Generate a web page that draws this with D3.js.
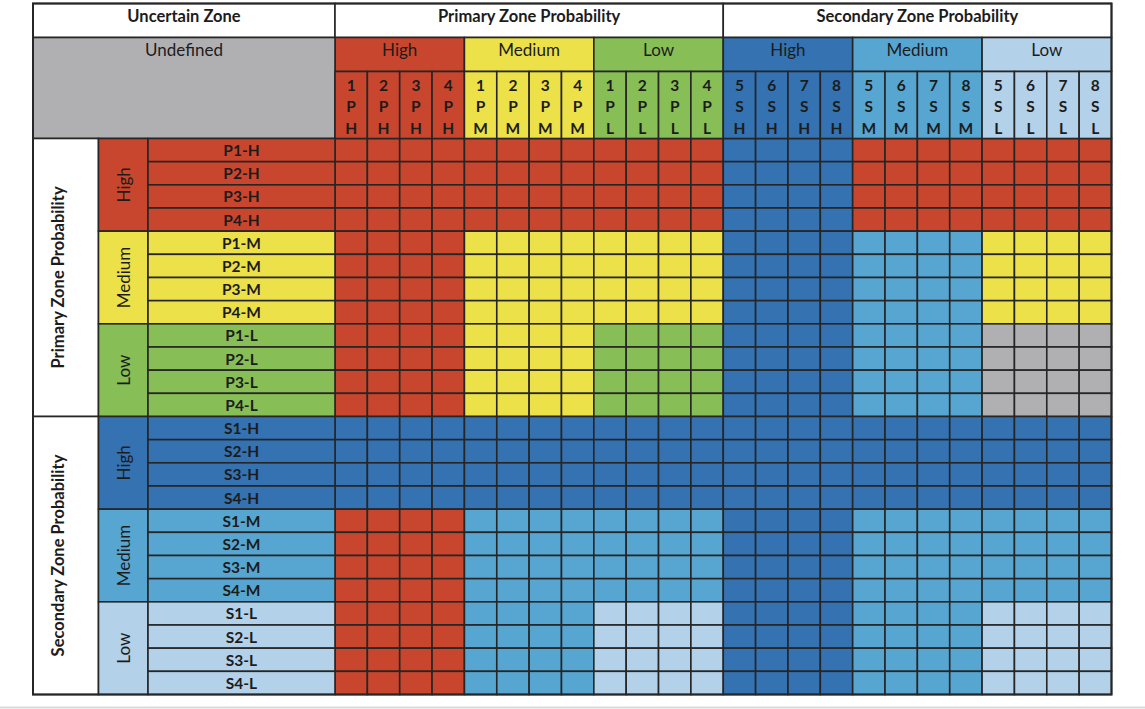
<!DOCTYPE html>
<html>
<head>
<meta charset="utf-8">
<script src="https://cdn.jsdelivr.net/npm/d3@7"></script>
<style>
  body { margin: 0; background: #fff; }
  text { font-family: Lato, "Open Sans", sans-serif; fill: #1c1c1c; }
</style>
</head>
<body>
<script>
//// Data ////////////////////////////////////////////
const ZONES = ["Primary Zone Probability", "Secondary Zone Probability"]
const LEVELS = ["High", "Medium", "Low"]

// column header stacks (number / zone letter / level letter)
const COL_NUMBERS = ["1", "2", "3", "4", "1", "2", "3", "4", "1", "2", "3", "4",
  "5", "6", "7", "8", "5", "6", "7", "8", "5", "6", "7", "8"]
const COL_ZONE = ["P", "P", "P", "P", "P", "P", "P", "P", "P", "P", "P", "P",
  "S", "S", "S", "S", "S", "S", "S", "S", "S", "S", "S", "S"]
const COL_LEVEL = ["H", "H", "H", "H", "M", "M", "M", "M", "L", "L", "L", "L",
  "H", "H", "H", "H", "M", "M", "M", "M", "L", "L", "L", "L"]

const ROW_LABELS = ["P1-H", "P2-H", "P3-H", "P4-H", "P1-M", "P2-M", "P3-M", "P4-M",
  "P1-L", "P2-L", "P3-L", "P4-L", "S1-H", "S2-H", "S3-H", "S4-H",
  "S1-M", "S2-M", "S3-M", "S4-M", "S1-L", "S2-L", "S3-L", "S4-L"]

// r = red, y = yellow, g = green, d = dark blue, m = medium blue, l = light blue, u = undefined
const CELLS = [
  "rrrrrrrrrrrrddddrrrrrrrr",
  "rrrrrrrrrrrrddddrrrrrrrr",
  "rrrrrrrrrrrrddddrrrrrrrr",
  "rrrrrrrrrrrrddddrrrrrrrr",
  "rrrryyyyyyyyddddmmmmyyyy",
  "rrrryyyyyyyyddddmmmmyyyy",
  "rrrryyyyyyyyddddmmmmyyyy",
  "rrrryyyyyyyyddddmmmmyyyy",
  "rrrryyyyggggddddmmmmuuuu",
  "rrrryyyyggggddddmmmmuuuu",
  "rrrryyyyggggddddmmmmuuuu",
  "rrrryyyyggggddddmmmmuuuu",
  "dddddddddddddddddddddddd",
  "dddddddddddddddddddddddd",
  "dddddddddddddddddddddddd",
  "dddddddddddddddddddddddd",
  "rrrrmmmmmmmmddddmmmmmmmm",
  "rrrrmmmmmmmmddddmmmmmmmm",
  "rrrrmmmmmmmmddddmmmmmmmm",
  "rrrrmmmmmmmmddddmmmmmmmm",
  "rrrrmmmmllllddddmmmmllll",
  "rrrrmmmmllllddddmmmmllll",
  "rrrrmmmmllllddddmmmmllll",
  "rrrrmmmmllllddddmmmmllll"
]

//// Styles //////////////////////////////////////////
const WIDTH = 1145
const HEIGHT = 709
const LINE = "#262626"
const COLORS = {
  r: "rgb(201, 70, 46)",
  y: "rgb(236, 225, 73)",
  g: "rgb(135, 190, 86)",
  d: "rgb(52, 114, 178)",
  m: "rgb(87, 166, 209)",
  l: "rgb(179, 209, 232)",
  u: "rgb(176, 176, 178)"
}
// level colours per zone (for header / row group cells)
const ZONE_LEVEL_COLORS = [["r", "y", "g"], ["d", "m", "l"]]

const X0 = 33, X1 = 98.5, X2 = 148, X3 = 335, XR = 1111.5
const Y0 = 3.5, Y1 = 37.5, Y2 = 71.5, Y3 = 138.5, YB = 694.5

const svg = d3.select("body").append("svg")
  .attr("width", WIDTH)
  .attr("height", HEIGHT)

const x = d3.scaleBand().domain(d3.range(24)).range([X3, XR])
const y = d3.scaleBand().domain(ROW_LABELS).range([Y3, YB])

function cell(x0, y0, w, h, fill) {
  svg.append("rect")
    .attr("x", x0).attr("y", y0).attr("width", w).attr("height", h)
    .attr("fill", fill)
    .attr("stroke", LINE).attr("stroke-width", 1.6)
}

function label(tx, ty, str, size, weight, rotate) {
  const t = svg.append("text")
    .attr("text-anchor", "middle")
    .attr("dominant-baseline", "central")
    .style("font-size", size + "px")
    .style("font-weight", weight)
    .text(str)
  if (rotate) t.attr("transform", `translate(${tx},${ty}) rotate(-90)`)
  else t.attr("x", tx).attr("y", ty)
  return t
}

function zoneColor(zi, li) {
  return COLORS[ZONE_LEVEL_COLORS[zi][li]]
}

//// Matrix cells ////
const rows = svg.append("g")
CELLS.forEach((line, i) => {
  line.split("").forEach((c, j) => {
    rows.append("rect")
      .attr("x", x(j)).attr("y", y(ROW_LABELS[i]))
      .attr("width", x.bandwidth()).attr("height", y.bandwidth())
      .attr("fill", COLORS[c])
      .attr("stroke", LINE).attr("stroke-width", 1.6)
  })
})

//// Top header ////
cell(X0, Y0, X3 - X0, Y1 - Y0, "#fff")
label((X0 + X3) / 2, 16, "Uncertain Zone", 16.5, 700)
ZONES.forEach((z, zi) => {
  const a = x(zi * 12), b = x(zi * 12 + 11) + x.bandwidth()
  cell(a, Y0, b - a, Y1 - Y0, "#fff")
  label((a + b) / 2, 16, z, 16.5, 700)
  LEVELS.forEach((lv, li) => {
    const s = x(zi * 12 + li * 4), e = x(zi * 12 + li * 4 + 3) + x.bandwidth()
    cell(s, Y1, e - s, Y2 - Y1, zoneColor(zi, li))
    label((s + e) / 2, 49.5, lv, 17, 400)
  })
})
cell(X0, Y1, X3 - X0, Y3 - Y1, COLORS.u)
label((X0 + X3) / 2, 49.5, "Undefined", 17, 400)

// column header stacks
COL_NUMBERS.forEach((n, j) => {
  const zi = j < 12 ? 0 : 1
  cell(x(j), Y2, x.bandwidth(), Y3 - Y2, zoneColor(zi, Math.floor((j % 12) / 4)))
  const cx = x(j) + x.bandwidth() / 2
  label(cx, 84.5, n, 15.5, 700)
  label(cx, 106, COL_ZONE[j], 15.5, 700)
  label(cx, 128, COL_LEVEL[j], 15.5, 700)
})

//// Left header ////
ZONES.forEach((z, zi) => {
  const a = y(ROW_LABELS[zi * 12]), b = y(ROW_LABELS[zi * 12 + 11]) + y.bandwidth()
  cell(X0, a, X1 - X0, b - a, "#fff")
  label(58, (a + b) / 2, z, 16.5, 700, true)
  LEVELS.forEach((lv, li) => {
    const s = y(ROW_LABELS[zi * 12 + li * 4]), e = y(ROW_LABELS[zi * 12 + li * 4 + 3]) + y.bandwidth()
    cell(X1, s, X2 - X1, e - s, zoneColor(zi, li))
    label(123, (s + e) / 2, lv, 17, 400, true)
  })
})

ROW_LABELS.forEach((r, i) => {
  const zi = i < 12 ? 0 : 1
  const li = Math.floor((i % 12) / 4)
  cell(X2, y(r), X3 - X2, y.bandwidth(), zoneColor(zi, li))
  label((X2 + X3) / 2, y(r) + y.bandwidth() / 2, r, 15.5, 700)
})

// outer frame
svg.append("rect")
  .attr("x", X0).attr("y", Y0).attr("width", XR - X0).attr("height", YB - Y0)
  .attr("fill", "none").attr("stroke", LINE).attr("stroke-width", 2)

// faint page edge at the bottom
svg.append("line")
  .attr("x1", 0).attr("x2", WIDTH).attr("y1", 707.5).attr("y2", 707.5)
  .attr("stroke", "#d9d9d9").attr("stroke-width", 2)
</script>
</body>
</html>
